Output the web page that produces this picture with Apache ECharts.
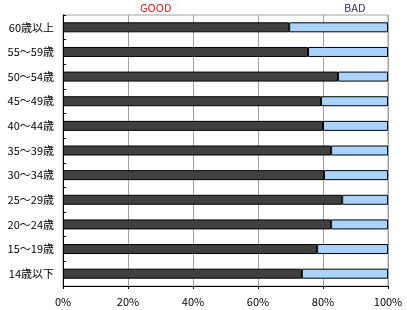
<!DOCTYPE html>
<html><head><meta charset="utf-8">
<script src="https://cdn.jsdelivr.net/npm/echarts@6/dist/echarts.min.js"></script>
<style>html,body{margin:0;padding:0;background:#fff}#c{width:407px;height:310px}</style>
</head><body><div id="c"></div>
<script>
const categories = ['60歳以上','55～59歳','50～54歳','45～49歳','40～44歳','35～39歳','30～34歳','25～29歳','20～24歳','15～19歳','14歳以下'];
const goodValues = [69.6, 75.4, 84.6, 79.4, 80.0, 82.5, 80.3, 85.9, 82.5, 78.2, 73.5];
const badValues  = [30.4, 24.6, 15.4, 20.6, 20.0, 17.5, 19.7, 14.1, 17.5, 21.8, 26.5];
const xTicks = [0, 20, 40, 60, 80, 100];
const legendNames = ['GOOD', 'BAD'];

const font = '"Noto Sans CJK JP", "DejaVu Sans", sans-serif';
const chart = echarts.init(document.getElementById('c'), null, {renderer: 'canvas'});
chart.setOption({
  animation: false,
  backgroundColor: '#fff',
  grid: {left: 63, right: 19, top: 15, bottom: 24, show: true, borderColor: '#a0a0a0', borderWidth: 1},
  xAxis: {
    type: 'value', min: xTicks[0], max: xTicks[xTicks.length - 1], interval: 20,
    axisLine: {show: true, lineStyle: {color: '#000', width: 1}},
    axisTick: {show: true, length: 3, lineStyle: {color: '#000'}},
    splitLine: {show: true, lineStyle: {color: '#a0a0a0', width: 1}},
    axisLabel: {formatter: '{value}%', color: '#000', fontSize: 11, fontFamily: font, margin: 10}
  },
  yAxis: {
    type: 'category', data: categories, inverse: true,
    axisLine: {show: true, lineStyle: {color: '#000', width: 1}},
    axisTick: {show: true, inside: true, length: 3, lineStyle: {color: '#000'}},
    axisLabel: {color: '#000', fontSize: 11, fontFamily: font, margin: 9}
  },
  series: [
    {name: legendNames[0], type: 'bar', stack: 's', data: goodValues, barWidth: 10,
     itemStyle: {color: '#404040', borderColor: '#000', borderWidth: 1}},
    {name: legendNames[1], type: 'bar', stack: 's', data: badValues, barWidth: 10,
     itemStyle: {color: '#aad4ff', borderColor: '#000', borderWidth: 1}}
  ],
  graphic: [
    {type: 'text', left: 140, top: 2, style: {text: legendNames[0], fill: '#cc2020', font: '11px ' + font}},
    {type: 'text', left: 344, top: 2, style: {text: legendNames[1], fill: '#33335f', font: '11px ' + font}}
  ]
});
</script></body></html>
